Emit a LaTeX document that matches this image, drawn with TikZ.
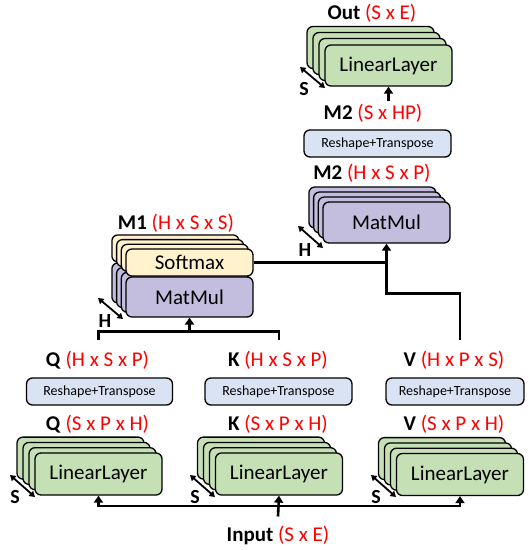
\documentclass[tikz,border=0pt]{standalone}
\usepackage{fontspec}
\setmainfont{Carlito}
\usetikzlibrary{arrows.meta,calc}
\definecolor{lgreen}{HTML}{C5E0B4}
\definecolor{lpurple}{HTML}{C3BDDE}
\definecolor{lyellow}{HTML}{FFF2CC}
\definecolor{lblue}{HTML}{DAE3F3}
\definecolor{dimred}{HTML}{FF0000}
\newcommand\mylab[2]{\textbf{#1} \textcolor{dimred}{#2}}
\begin{document}
\begin{tikzpicture}[x=1pt,y=-1pt,
  box/.style={draw, line width=1.3pt, rounded corners=6pt, inner sep=0pt, font=\fontsize{21}{25}\selectfont},
  lin/.style={box, fill=lgreen, minimum width=127pt, minimum height=42pt},
  mm/.style={box, fill=lpurple, minimum width=127pt, minimum height=41pt},
  sm/.style={box, fill=lyellow, minimum width=127pt, minimum height=27pt},
  rs/.style={box, fill=lblue, minimum height=27pt, font=\fontsize{14}{16}\selectfont},
  lbl/.style={font=\fontsize{21}{25}\selectfont, inner sep=0pt},
  wire/.style={line width=2.6pt},
  conn/.style={line width=2.6pt, -{Triangle[width=9pt,length=7pt]}},
  dimarrow/.style={line width=1.8pt, {Triangle[width=6.5pt,length=5.5pt]}-{Triangle[width=6.5pt,length=5.5pt]}},
  dimlbl/.style={font=\bfseries\fontsize{20}{24}\selectfont, inner sep=0pt}]
\useasboundingbox (0,0) rectangle (529,550);

% ---------- bottom linear layers ----------
\foreach \i in {3,2,1} \node[lin] at ({98.5-6*\i},{474-5.3*\i}) {};
\node[lin] (qlin) at (98.5,474) {LinearLayer};
\foreach \i in {3,2,1} \node[lin] at ({279-6*\i},{474-5.3*\i}) {};
\node[lin] (klin) at (279,474) {LinearLayer};
\foreach \i in {3,2,1} \node[lin] at ({460-6*\i},{474.5-5.3*\i}) {};
\node[lin] (vlin) at (460,474.5) {LinearLayer};

\draw[dimarrow] (10,475) -- (35,497);
\node[dimlbl] (sq) at (15,497) {S};
\draw[dimarrow] (190,475) -- (215,497);
\node[dimlbl] (sk) at (195,497) {S};
\draw[dimarrow] (371,475) -- (396,497);
\node[dimlbl] (sv) at (376,497) {S};

% ---------- labels and reshape ----------
\node[lbl] (qb) at (97.5,424) {\mylab{Q}{(S x P x H)}};
\node[lbl] (kb) at (278,424) {\mylab{K}{(S x P x H)}};
\node[lbl] (vb) at (454,424) {\mylab{V}{(S x P x H)}};
\node[rs, minimum width=146pt] (qrs) at (99.5,391.5) {Reshape+Transpose};
\node[rs, minimum width=147pt] (krs) at (278.5,391.5) {Reshape+Transpose};
\node[rs, minimum width=138pt] (vrs) at (455,391.5) {Reshape+Transpose};
\node[lbl] (qa) at (97.5,360) {\mylab{Q}{(H x S x P)}};
\node[lbl] (ka) at (278,360) {\mylab{K}{(H x S x P)}};
\node[lbl] (va) at (454,360) {\mylab{V}{(H x P x S)}};

% ---------- input ----------
\node[lbl] (inp) at (278,535) {\mylab{Input}{(S x E)}};
\coordinate (bus) at (279,506);
\draw[conn] (bus) -| (qlin.south);
\draw[conn] (bus) -| (vlin.south);
\draw[conn] ([yshift=9pt]inp.north) -- (klin.south);

% ---------- M1 ----------
\foreach \i in {3,2,1} {
  \node[sm] at ({189.5-4.7*\i},{262.5-4.7*\i}) {};
  \node[mm, minimum height=40pt] at ({189.5-4.7*\i},{297-4.7*\i}) {};
}
\node[sm] (smx) at (189.5,262.5) {Softmax};
\node[mm, minimum height=40pt] (m1mm) at (189.5,297) {MatMul};
\node[lbl] (m1l) at (176,223) {\mylab{M1}{(H x S x S)}};
\draw[dimarrow] (98,298) -- (123,319);
\node[dimlbl] (h1) at (105,321) {H};

\path (m1mm.south) ++(0,14) coordinate (qk);
\coordinate (qtop) at ([yshift=11pt]qa.north);
\coordinate (ktop) at ([yshift=11pt]ka.north);
\draw[wire] (qtop -| qlin.north) |- (qk) -| (ktop -| klin.north);
\draw[conn] (qk) -- (m1mm.south);

% ---------- M2 ----------
\foreach \i in {3,2,1} \node[mm] at ({386.5-4.7*\i},{222.5-5*\i}) {};
\node[mm] (m2mm) at (386.5,222.5) {MatMul};
\node[lbl] (m2l) at (372,173) {\mylab{M2}{(H x S x P)}};
\draw[dimarrow] (298,226) -- (323,248);
\node[dimlbl] (h2) at (305,250) {H};

\coordinate (vtop) at ([yshift=11pt]va.north);
\draw[conn] (vtop -| vlin.north) |- ([yshift=-50pt]m2mm.south) -- (m2mm.south);
\draw[wire] (smx.east) -- (smx.east -| m2mm.south);

% ---------- top ----------
\node[rs, minimum width=147pt] (trs) at (377.5,143.5) {Reshape+Transpose};
\node[lbl] (m2b) at (373,113) {\mylab{M2}{(S x HP)}};
\foreach \i in {3,2,1} \node[lin] at ({388.5-6*\i},{65.5-6*\i}) {};
\node[lin, minimum height=41pt] (outlin) at (388.5,65.5) {LinearLayer};
\node[lbl] (outl) at (372,13) {\mylab{Out}{(S x E)}};
\draw[dimarrow] (300,67) -- (325,88);
\node[dimlbl] (st) at (304,89) {S};
\coordinate (m2t) at ([yshift=3pt]m2b.north);
\draw[conn] (m2t -| outlin.south) -- (outlin.south);
\end{tikzpicture}
\end{document}
